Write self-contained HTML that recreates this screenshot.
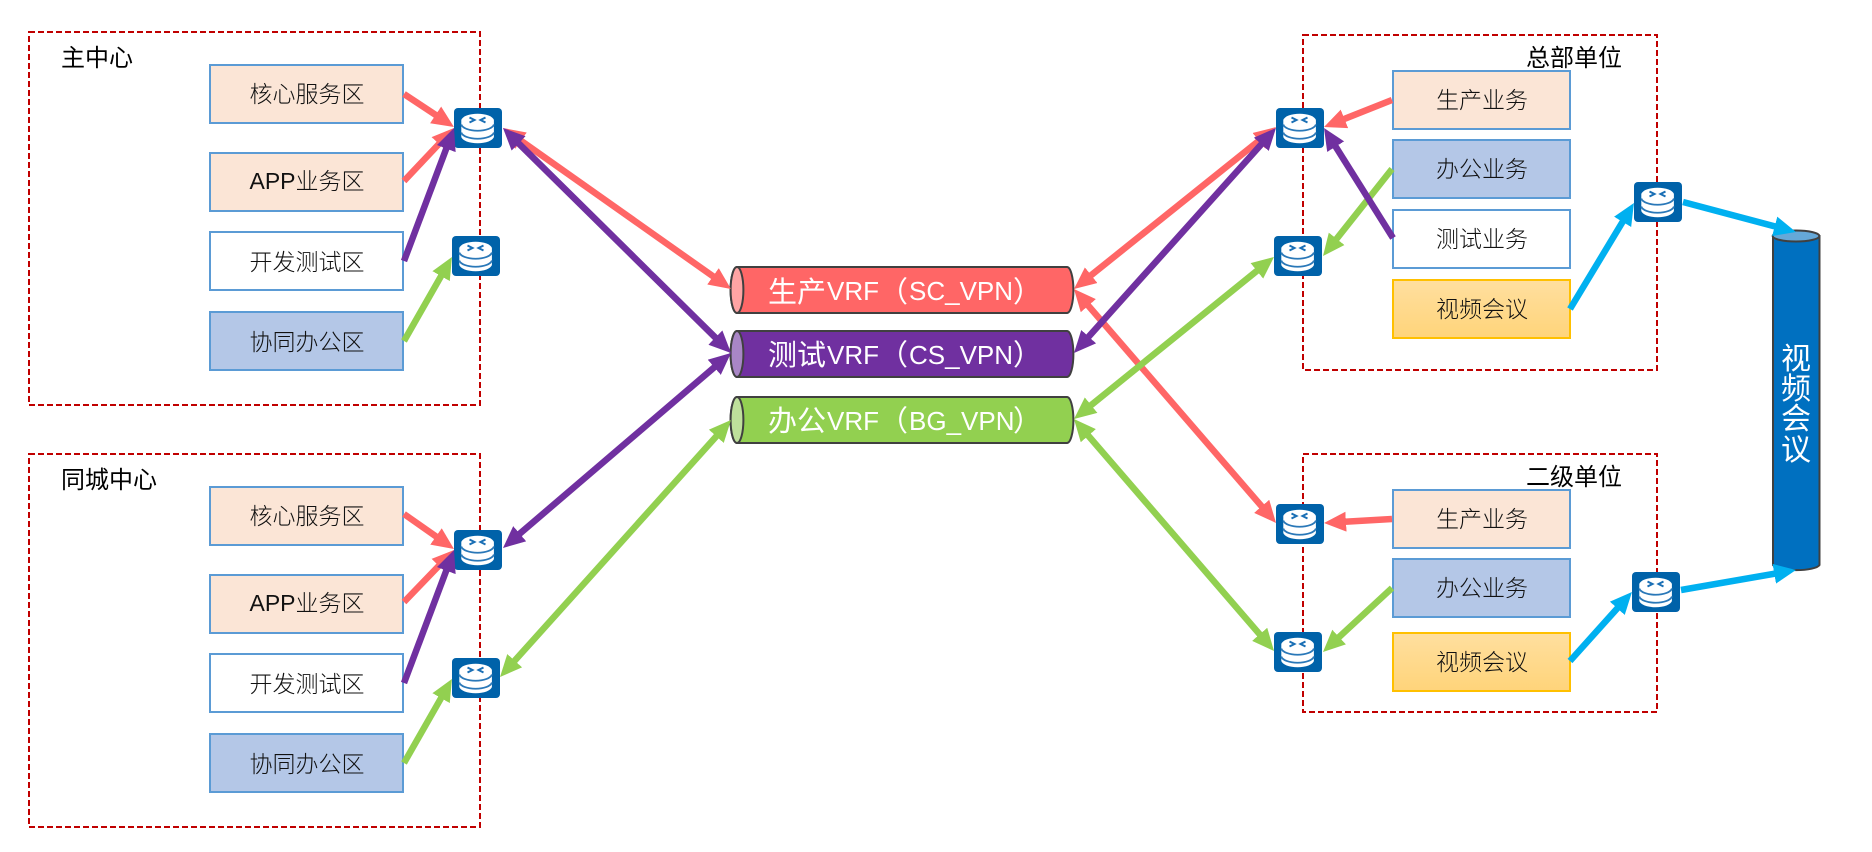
<!DOCTYPE html>
<html lang="zh">
<head>
<meta charset="utf-8">
<title>VRF diagram</title>
<style>
html,body{margin:0;padding:0;background:#fff;width:1872px;height:852px;overflow:hidden}
svg{display:block}
text{font-family:"Liberation Sans","Noto Sans CJK SC",sans-serif}
.box{fill:none;stroke:#c00000;stroke-width:2;stroke-dasharray:6 3}
.zone{stroke:#5b9bd5;stroke-width:2}
.o{fill:#fbe5d6}.w{fill:#fff}.b{fill:#b4c7e7}
.v{fill:url(#og);stroke:#ffc000;stroke-width:2}
.zt{font-size:23px;fill:#111;text-anchor:middle;font-weight:300}
.lb{font-size:24px;fill:#000}
.pipe{stroke:#404040;stroke-width:2}
.pt{fill:#fff;font-size:26px}
.pc{fill:#fff;font-size:29px}
.r{stroke:#ff6666}.p{stroke:#7030a0}.g{stroke:#92d050}.c{stroke:#00b0f0}
line{stroke-width:6.5}
</style>
</head>
<body>
<svg width="1872" height="852" viewBox="0 0 1872 852" xmlns="http://www.w3.org/2000/svg">
<defs>
<linearGradient id="og" x1="0" y1="0" x2="0" y2="1"><stop offset="0" stop-color="#ffdf9f"/><stop offset="1" stop-color="#ffd47a"/></linearGradient>
<marker id="mr" markerUnits="userSpaceOnUse" markerWidth="24" markerHeight="22" refX="12" refY="10" orient="auto-start-reverse"><path d="M0,0L22,10L0,20Z" fill="#ff6666"/></marker>
<marker id="mp" markerUnits="userSpaceOnUse" markerWidth="24" markerHeight="22" refX="12" refY="10" orient="auto-start-reverse"><path d="M0,0L22,10L0,20Z" fill="#7030a0"/></marker>
<marker id="mg" markerUnits="userSpaceOnUse" markerWidth="24" markerHeight="22" refX="12" refY="10" orient="auto-start-reverse"><path d="M0,0L22,10L0,20Z" fill="#92d050"/></marker>
<marker id="mc" markerUnits="userSpaceOnUse" markerWidth="24" markerHeight="22" refX="12" refY="10" orient="auto-start-reverse"><path d="M0,0L22,10L0,20Z" fill="#00b0f0"/></marker>
<g id="rt">
<rect width="48" height="40" rx="4" fill="#0062a9"/>
<path d="M7.300,12V29A16.400,7 0 0 0 39.900,29V12A16.400,7 0 0 0 7.300,12Z" fill="#fff"/>
<path d="M7.300,16.500A16.400,7 0 0 0 39.900,16.500M7.300,24.500A16.400,7 0 0 0 39.900,24.500" fill="none" stroke="#2a78b8" stroke-width="1.800"/>
<path d="M15.500,9.500L20.500,12L15.500,14.500M31.500,9.500L26.500,12L31.500,14.500" fill="none" stroke="#1a6fb5" stroke-width="2"/>
</g>
</defs>

<!-- dashed containers -->
<rect class="box" x="29" y="32" width="451" height="373"/>
<rect class="box" x="29" y="454" width="451" height="373"/>
<rect class="box" x="1303" y="35" width="354" height="335"/>
<rect class="box" x="1303" y="454" width="354" height="258"/>

<!-- group labels -->
<text class="lb" x="61" y="66">主中心</text>
<text class="lb" x="61" y="488">同城中心</text>
<text class="lb" x="1526" y="66">总部单位</text>
<text class="lb" x="1526" y="485">二级单位</text>

<!-- left zones -->
<rect class="zone o" x="210" y="65" width="193" height="58"/><text class="zt" x="307" y="102">核心服务区</text>
<rect class="zone o" x="210" y="153" width="193" height="58"/><text class="zt" x="307" y="189">APP业务区</text>
<rect class="zone w" x="210" y="232" width="193" height="58"/><text class="zt" x="307" y="270">开发测试区</text>
<rect class="zone b" x="210" y="312" width="193" height="58"/><text class="zt" x="307" y="350">协同办公区</text>

<rect class="zone o" x="210" y="487" width="193" height="58"/><text class="zt" x="307" y="524">核心服务区</text>
<rect class="zone o" x="210" y="575" width="193" height="58"/><text class="zt" x="307" y="611">APP业务区</text>
<rect class="zone w" x="210" y="654" width="193" height="58"/><text class="zt" x="307" y="692">开发测试区</text>
<rect class="zone b" x="210" y="734" width="193" height="58"/><text class="zt" x="307" y="772">协同办公区</text>

<!-- right zones -->
<rect class="zone o" x="1393" y="71" width="177" height="58"/><text class="zt" x="1482" y="108">生产业务</text>
<rect class="zone b" x="1393" y="140" width="177" height="58"/><text class="zt" x="1482" y="177">办公业务</text>
<rect class="zone w" x="1393" y="210" width="177" height="58"/><text class="zt" x="1482" y="247">测试业务</text>
<rect class="v" x="1393" y="280" width="177" height="58"/><text class="zt" x="1482" y="317">视频会议</text>

<rect class="zone o" x="1393" y="490" width="177" height="58"/><text class="zt" x="1482" y="527">生产业务</text>
<rect class="zone b" x="1393" y="559" width="177" height="58"/><text class="zt" x="1482" y="596">办公业务</text>
<rect class="v" x="1393" y="633" width="177" height="58"/><text class="zt" x="1482" y="670">视频会议</text>

<!-- VRF pipes -->
<path class="pipe" fill="#ff6666" d="M737,267H1067A6.400,23 0 0 1 1067,313H737A6.400,23 0 0 1 737,267Z"/>
<ellipse class="pipe" fill="#ffa4a4" cx="737" cy="290" rx="6.400" ry="23"/>
<text class="pc" x="768" y="302">生产</text><text class="pt" x="827" y="300">VRF</text><text class="pc" x="879" y="302">（</text><text class="pt" x="909" y="300">SC_VPN</text><text class="pc" x="1013" y="302">）</text>

<path class="pipe" fill="#7030a0" d="M737,331H1067A6.400,23 0 0 1 1067,377H737A6.400,23 0 0 1 737,331Z"/>
<ellipse class="pipe" fill="#a986c6" cx="737" cy="354" rx="6.400" ry="23"/>
<text class="pc" x="768" y="365">测试</text><text class="pt" x="827" y="364">VRF</text><text class="pc" x="879" y="365">（</text><text class="pt" x="909" y="364">CS_VPN</text><text class="pc" x="1013" y="365">）</text>

<path class="pipe" fill="#92d050" d="M737,397H1067A6.400,23 0 0 1 1067,443H737A6.400,23 0 0 1 737,397Z"/>
<ellipse class="pipe" fill="#bee09b" cx="737" cy="420" rx="6.400" ry="23"/>
<text class="pc" x="768" y="431">办公</text><text class="pt" x="827" y="430">VRF</text><text class="pc" x="879" y="431">（</text><text class="pt" x="909" y="430">BG_VPN</text><text class="pc" x="1013" y="431">）</text>

<!-- video cylinder -->
<path class="pipe" fill="#0070c0" d="M1773,236V565A23.500,6 0 0 0 1819.500,565V236Z"/>
<ellipse class="pipe" fill="#65a8d8" cx="1796" cy="236" rx="23.300" ry="5.500"/>
<g fill="#fff" font-size="30" text-anchor="middle">
<text x="1796" y="369">视</text><text x="1796" y="399">频</text><text x="1796" y="429">会</text><text x="1796" y="460">议</text>
</g>

<!-- routers -->
<use href="#rt" x="454" y="108"/><use href="#rt" x="452" y="236"/>
<use href="#rt" x="454" y="530"/><use href="#rt" x="452" y="658"/>
<use href="#rt" x="1276" y="108"/><use href="#rt" x="1274" y="236"/>
<use href="#rt" x="1634" y="182"/>
<use href="#rt" x="1276" y="504"/><use href="#rt" x="1274" y="632"/>
<use href="#rt" x="1632" y="572"/>

<!-- connectors -->
<line class="r" x1="404" y1="94" x2="445.600" y2="121.500" marker-end="url(#mr)"/>
<line class="r" x1="404" y1="181" x2="447.100" y2="135.300" marker-end="url(#mr)"/>
<line class="p" x1="404" y1="261" x2="450.500" y2="137.400" marker-end="url(#mp)"/>
<line class="g" x1="404" y1="341" x2="447" y2="265.700" marker-end="url(#mg)"/>
<line class="r" x1="404" y1="514" x2="445.800" y2="543.300" marker-end="url(#mr)"/>
<line class="r" x1="404" y1="602" x2="447.100" y2="557.200" marker-end="url(#mr)"/>
<line class="p" x1="404" y1="683" x2="450.500" y2="559.400" marker-end="url(#mp)"/>
<line class="g" x1="404" y1="763" x2="447" y2="687.700" marker-end="url(#mg)"/>

<line class="r" x1="1392" y1="100" x2="1333.300" y2="123.300" marker-end="url(#mr)"/>
<line class="g" x1="1392" y1="169" x2="1329.200" y2="248.200" marker-end="url(#mg)"/>
<line class="p" x1="1393" y1="238" x2="1329.300" y2="136.500" marker-end="url(#mp)"/>
<line class="c" x1="1570" y1="309" x2="1628.800" y2="211.600" marker-end="url(#mc)"/>
<line class="c" x1="1683" y1="202" x2="1786.300" y2="229.400" marker-end="url(#mc)"/>
<line class="r" x1="1392" y1="519" x2="1334" y2="522.400" marker-end="url(#mr)"/>
<line class="g" x1="1392" y1="588" x2="1330.300" y2="645.200" marker-end="url(#mg)"/>
<line class="c" x1="1570" y1="661" x2="1625.300" y2="599.400" marker-end="url(#mc)"/>
<line class="c" x1="1681" y1="590" x2="1786.100" y2="571.700" marker-end="url(#mc)"/>

<line class="r" x1="511.200" y1="133.800" x2="722.800" y2="283.200" marker-start="url(#mr)" marker-end="url(#mr)"/>
<line class="p" x1="510.100" y1="135" x2="723.900" y2="346" marker-start="url(#mp)" marker-end="url(#mp)"/>
<line class="p" x1="510.600" y1="541.500" x2="723.400" y2="359.500" marker-start="url(#mp)" marker-end="url(#mp)"/>
<line class="g" x1="506.700" y1="669.600" x2="724.300" y2="427.400" marker-start="url(#mg)" marker-end="url(#mg)"/>

<line class="r" x1="1080.500" y1="296.600" x2="1269.500" y2="515.400" marker-start="url(#mr)" marker-end="url(#mr)"/>
<line class="r" x1="1081.800" y1="282.700" x2="1268.200" y2="133.300" marker-start="url(#mr)" marker-end="url(#mr)"/>
<line class="p" x1="1080.700" y1="345.600" x2="1269.300" y2="135.400" marker-start="url(#mp)" marker-end="url(#mp)"/>
<line class="g" x1="1081.800" y1="412.700" x2="1266.200" y2="263.300" marker-start="url(#mg)" marker-end="url(#mg)"/>
<line class="g" x1="1080.500" y1="426.600" x2="1267.500" y2="643.400" marker-start="url(#mg)" marker-end="url(#mg)"/>
</svg>
</body>
</html>
